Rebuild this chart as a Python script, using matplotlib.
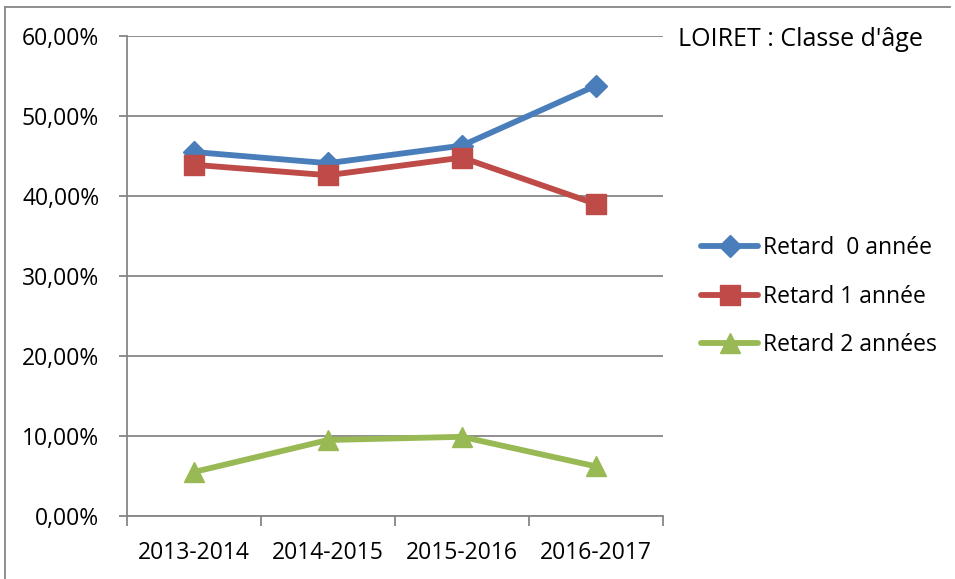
import matplotlib
matplotlib.use("Agg")
import matplotlib.pyplot as plt
from matplotlib.lines import Line2D
from matplotlib.ticker import FuncFormatter, FixedLocator

categories = ["2013-2014", "2014-2015", "2015-2016", "2016-2017"]
retard0 = [45.5, 44.1, 46.3, 53.8]
retard1 = [43.9, 42.6, 44.8, 39.0]
retard2 = [5.5, 9.5, 9.9, 6.2]
series_names = ["Retard  0 année", "Retard 1 année", "Retard 2 années"]
title = "LOIRET : Classe d'âge"

plt.rcParams['font.family'] = ['Open Sans', 'DejaVu Sans']

W, H = 955, 579
fig = plt.figure(figsize=(W / 100, H / 100), dpi=100)
ax = fig.add_axes([127 / W, (H - 516) / H, 536 / W, 480 / H])

x = list(range(len(categories)))
c0, c1, c2 = "#4a7ebb", "#be4b48", "#98b954"
ax.plot(x, retard0, color=c0, lw=4.2, marker="D", ms=11.5, label=series_names[0], solid_capstyle="round")
ax.plot(x, retard1, color=c1, lw=4.2, marker="s", ms=14.5, label=series_names[1], solid_capstyle="round")
ax.plot(x, retard2, color=c2, lw=4.2, marker="^", ms=14, label=series_names[2], solid_capstyle="round")

ax.set_xlim(-0.5, 3.5)
ax.set_ylim(0, 60)
ax.set_yticks(range(0, 61, 10))
ax.yaxis.set_major_formatter(FuncFormatter(lambda v, p: f"{v:.2f}%".replace(".", ",")))
ax.set_xticks(x)
ax.set_xticklabels(categories)
ax.xaxis.set_minor_locator(FixedLocator([-0.5, 0.5, 1.5, 2.5, 3.5]))
ax.tick_params(axis="x", which="major", length=0, pad=18, labelsize=16.5)
ax.tick_params(axis="x", which="minor", length=7, width=1.3, color="#868686")
ax.tick_params(axis="y", length=6, width=1.3, color="#868686", labelsize=16.5, pad=14)
ax.grid(axis="y", color="#868686", lw=1.3)
ax.set_axisbelow(True)
for s in ["top", "right"]:
    ax.spines[s].set_visible(False)
for s in ["left", "bottom"]:
    ax.spines[s].set_color("#868686")
    ax.spines[s].set_linewidth(1.3)

fig.text(678 / W, 1 - 40 / H, title, fontsize=18, va="center", ha="left")

leg = fig.legend(loc="upper left", bbox_to_anchor=(701 / W, 1 - 236 / H), frameon=False,
                 fontsize=16.5, handlelength=2.5, handletextpad=0.22, labelspacing=1.07,
                 borderaxespad=0, borderpad=0)

fig.add_artist(Line2D([5 / W, 5 / W], [0, 1 - 7 / H], color="#868686", lw=1.3))
fig.add_artist(Line2D([5 / W, 950 / W], [1 - 7 / H, 1 - 7 / H], color="#868686", lw=1.3))

fig.savefig("out.png", dpi=100)
